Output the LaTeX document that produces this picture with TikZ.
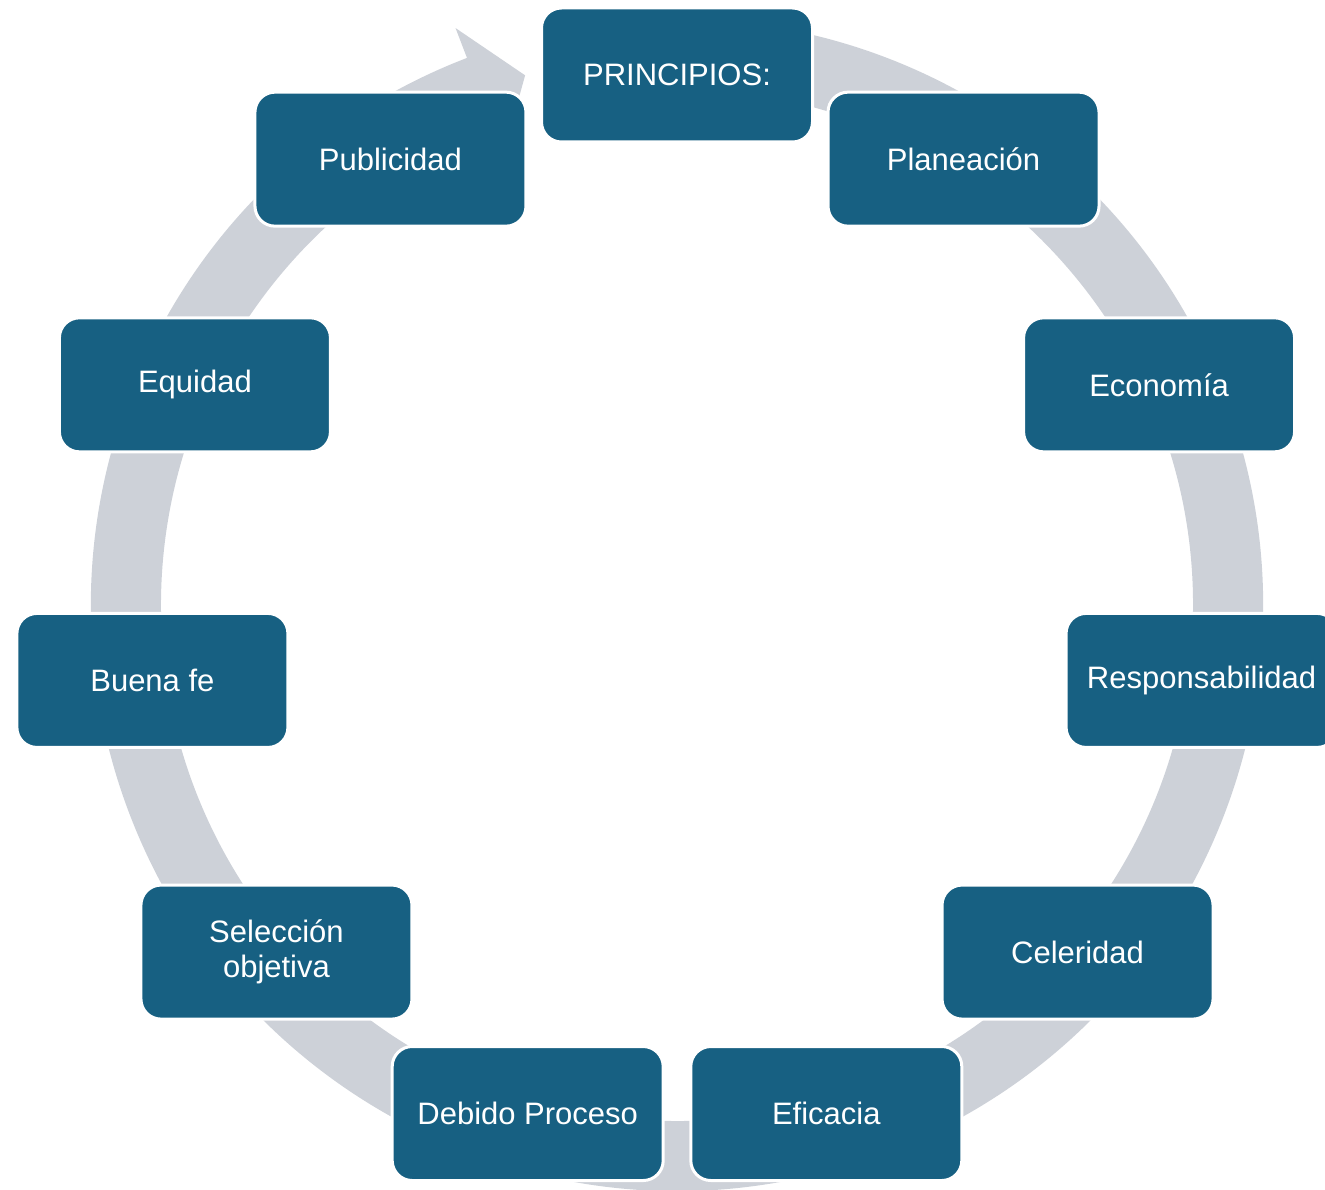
\documentclass[tikz,border=0pt]{standalone}
\usepackage{fontspec}
\setmainfont{Liberation Sans}
\definecolor{azul}{RGB}{23,96,130}
\definecolor{gris}{RGB}{205,209,216}

\begin{document}
\begin{tikzpicture}[x=0.5pt,y=0.5pt,
    caja/.style={draw=white, line width=1.5pt, fill=azul, rounded corners=10pt,
      minimum width=135.5pt, minimum height=67pt, align=center, text=white,
      font=\fontsize{15.5}{17.5}\selectfont}]
      \useasboundingbox (-677,-584) rectangle (648,605);

      % flecha circular
      \fill[gris] (111:586) arc[start angle=111, end angle=445, radius=586]
        -- (445:516) arc[start angle=445, end angle=111, radius=516]
        -- (111:484) -- (106:551) -- (111:618) -- cycle;

      \foreach \i/\t in {0/PRINCIPIOS:, 1/Planeación, 2/Economía, 3/Responsabilidad,
        4/Celeridad, 5/Eficacia, 6/Debido Proceso, 7/{Selección\\objetiva},
        8/Buena fe, 9/Equidad, 10/Publicidad} {
        \node[caja] (p\i) at ({90-\i*360/11}:530) {\t};
      }
    \end{tikzpicture}
\end{document}
